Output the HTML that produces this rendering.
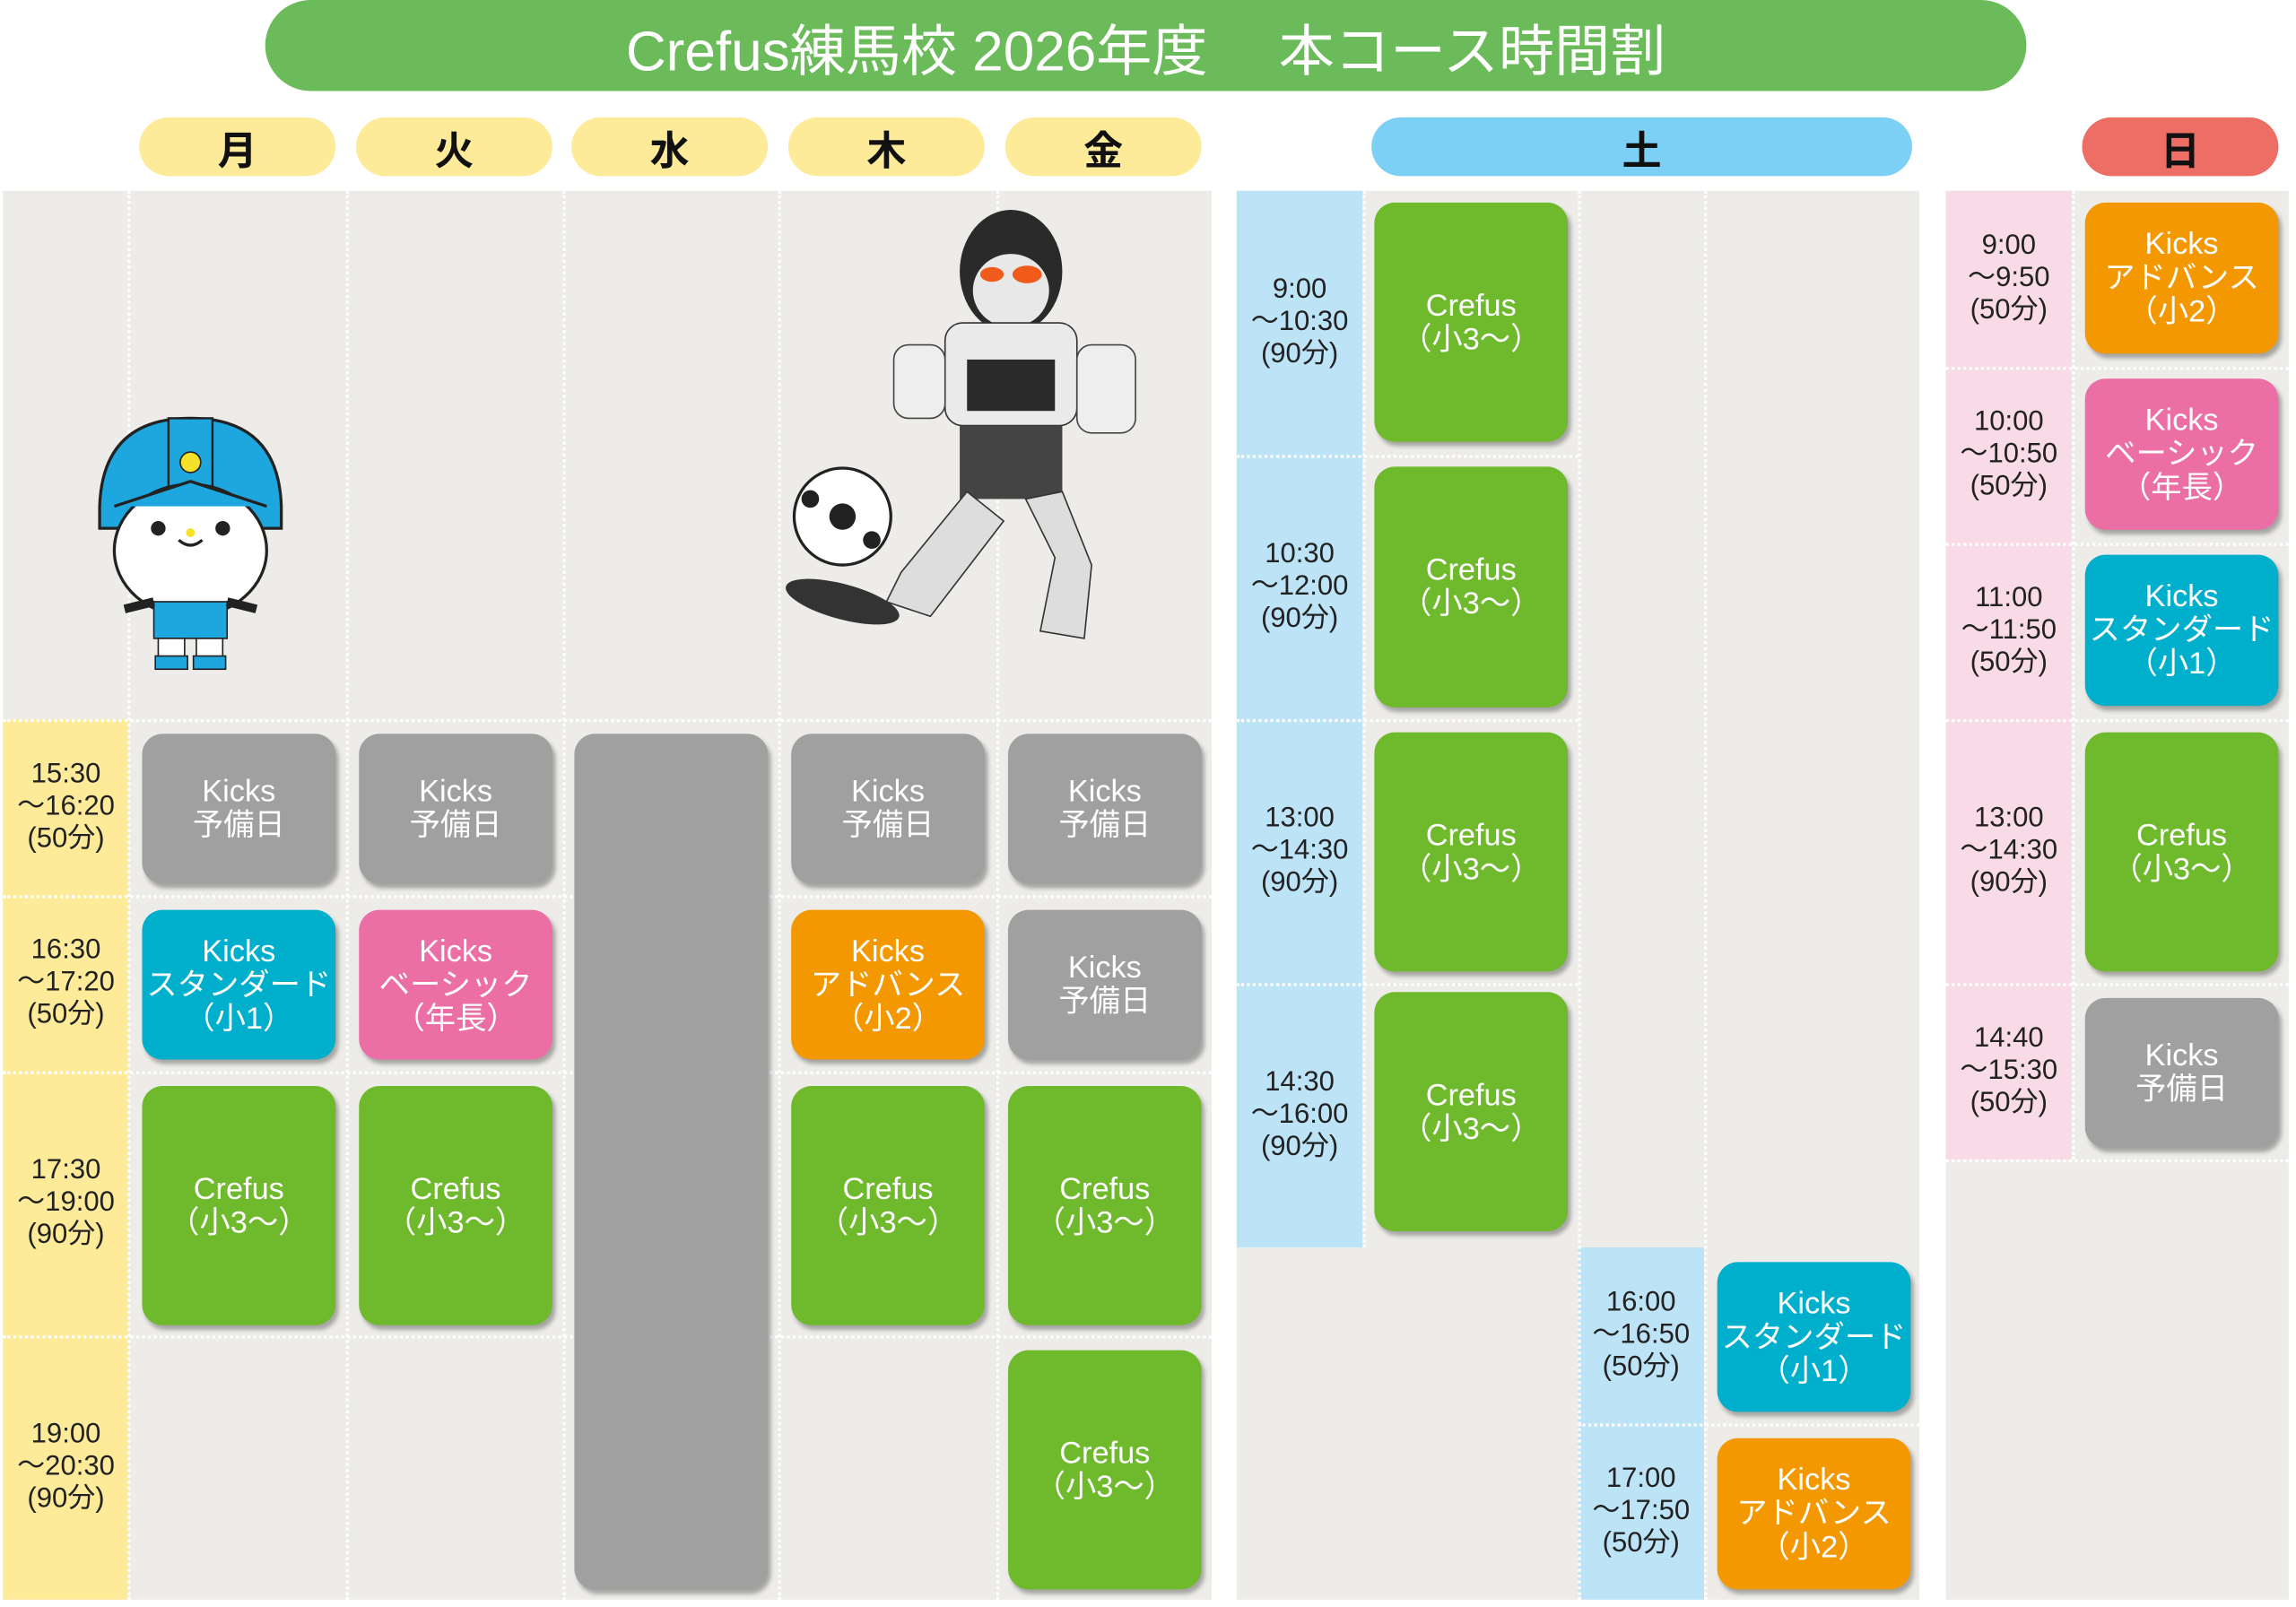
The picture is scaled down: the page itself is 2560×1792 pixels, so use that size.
<!DOCTYPE html>
<html><head><meta charset="utf-8"><style>
html,body{margin:0;padding:0;background:#fff;width:2560px;height:1792px;overflow:hidden}
#w{position:absolute;left:0;top:0;width:1564px;height:1095px;transform:scale(1.6337,1.6365);transform-origin:0 0;font-family:"Liberation Sans","Noto Sans CJK JP",sans-serif}
#w div{position:absolute;box-sizing:border-box}
.p{border-radius:21px;display:flex;align-items:center;justify-content:center;font-size:27px;font-weight:bold;color:#111}
.y{background:#fdeb9a}
.bg{background:#edece8}
.v{width:0;border-left:2px dotted #fff}
.h{height:0;border-top:2.5px dotted #fff}
.c{border-radius:14px;color:#fff;display:flex;align-items:center;justify-content:center;text-align:center;font-size:21px;line-height:23px;box-shadow:2px 3px 3px rgba(0,0,0,.3);width:132px}
.g{background:#a0a0a0}.gr{background:#6fba2c}.cy{background:#00afcc}.pk{background:#eb6ea5}.or{background:#f39800}
.t{display:flex;align-items:center;justify-content:center;text-align:center;font-size:19px;line-height:22px;color:#222;width:86px}
</style></head><body><div id="w">
<div style="left:181px;top:0;width:1202px;height:62px;border-radius:31px;background:#6cbb5a;color:#fff;font-size:38px;display:flex;align-items:center;justify-content:center;white-space:pre">Crefus練馬校 2026年度　 本コース時間割</div>
<div class="p y" style="left:95px;top:80px;width:134px;height:40px">月</div>
<div class="p y" style="left:243px;top:80px;width:134px;height:40px">火</div>
<div class="p y" style="left:390px;top:80px;width:134px;height:40px">水</div>
<div class="p y" style="left:538px;top:80px;width:134px;height:40px">木</div>
<div class="p y" style="left:686px;top:80px;width:134px;height:40px">金</div>
<div class="p" style="left:936px;top:80px;width:369px;height:40px;background:#7ccff5">土</div>
<div class="p" style="left:1421px;top:80px;width:134px;height:40px;background:#ec6e64">日</div>

<div class="bg" style="left:2px;top:130px;width:825px;height:960px"></div>
<div class="y" style="left:2px;top:490px;width:86px;height:600px"></div>
<div class="v" style="left:87px;top:130px;height:960px"></div>
<div class="v" style="left:236px;top:130px;height:960px"></div>
<div class="v" style="left:384px;top:130px;height:960px"></div>
<div class="v" style="left:531px;top:130px;height:960px"></div>
<div class="v" style="left:680px;top:130px;height:960px"></div>
<div class="h" style="left:2px;top:490px;width:825px"></div>
<div class="h" style="left:2px;top:610px;width:825px"></div>
<div class="h" style="left:2px;top:730px;width:825px"></div>
<div class="h" style="left:2px;top:910px;width:825px"></div>
<div class="t" style="left:2px;top:490px;height:120px">15:30<br>～16:20<br>(50分)</div>
<div class="t" style="left:2px;top:610px;height:120px">16:30<br>～17:20<br>(50分)</div>
<div class="t" style="left:2px;top:730px;height:180px">17:30<br>～19:00<br>(90分)</div>
<div class="t" style="left:2px;top:910px;height:180px">19:00<br>～20:30<br>(90分)</div>

<div class="c g" style="left:97px;top:500px;height:102px">Kicks<br>予備日</div>
<div class="c g" style="left:245px;top:500px;height:102px">Kicks<br>予備日</div>
<div class="c g" style="left:392px;top:500px;height:583px"></div>
<div class="c g" style="left:540px;top:500px;height:102px">Kicks<br>予備日</div>
<div class="c g" style="left:688px;top:500px;height:102px">Kicks<br>予備日</div>
<div class="c cy" style="left:97px;top:620px;height:102px">Kicks<br>スタンダード<br>（小1）</div>
<div class="c pk" style="left:245px;top:620px;height:102px">Kicks<br>ベーシック<br>（年長）</div>
<div class="c or" style="left:540px;top:620px;height:102px">Kicks<br>アドバンス<br>（小2）</div>
<div class="c g" style="left:688px;top:620px;height:102px">Kicks<br>予備日</div>
<div class="c gr" style="left:97px;top:740px;height:163px">Crefus<br>（小3～）</div>
<div class="c gr" style="left:245px;top:740px;height:163px">Crefus<br>（小3～）</div>
<div class="c gr" style="left:540px;top:740px;height:163px">Crefus<br>（小3～）</div>
<div class="c gr" style="left:688px;top:740px;height:163px">Crefus<br>（小3～）</div>
<div class="c gr" style="left:688px;top:920px;height:163px">Crefus<br>（小3～）</div>

<svg style="position:absolute;left:60px;top:280px" width="140" height="180" viewBox="0 0 140 180">
<path d="M8 65 Q10 5 70 5 Q130 5 132 65 L132 80 L8 80Z" fill="#1ea7df" stroke="#222" stroke-width="2"/>
<rect x="55" y="5" width="30" height="55" fill="#1ea7df" stroke="#222" stroke-width="1.5"/>
<circle cx="70" cy="35" r="7" fill="#f5e12a" stroke="#222"/>
<ellipse cx="70" cy="95" rx="52" ry="45" fill="#fff" stroke="#222" stroke-width="2"/>
<path d="M18 65 L70 48 L122 65" fill="#1ea7df" stroke="#222" stroke-width="2"/>
<circle cx="48" cy="80" r="5" fill="#222"/><circle cx="92" cy="80" r="5" fill="#222"/>
<circle cx="70" cy="83" r="3" fill="#f5e12a"/>
<path d="M62 88 Q70 95 78 88" fill="none" stroke="#222" stroke-width="2"/>
<rect x="45" y="130" width="50" height="25" fill="#1ea7df" stroke="#222"/>
<path d="M45 130 L25 135 M95 130 L115 135" stroke="#222" stroke-width="6"/>
<rect x="48" y="155" width="18" height="15" fill="#fff" stroke="#222"/><rect x="74" y="155" width="18" height="15" fill="#fff" stroke="#222"/>
<rect x="46" y="167" width="22" height="9" fill="#1ea7df" stroke="#222"/><rect x="72" y="167" width="22" height="9" fill="#1ea7df" stroke="#222"/>
</svg>
<svg style="position:absolute;left:535px;top:140px" width="260" height="310" viewBox="0 0 260 310">
<ellipse cx="155" cy="45" rx="35" ry="42" fill="#2a2a2a"/>
<ellipse cx="155" cy="58" rx="26" ry="25" fill="#e8e8e8"/>
<ellipse cx="142" cy="47" rx="8" ry="5" fill="#f05a1a"/><ellipse cx="166" cy="47" rx="10" ry="6" fill="#f05a1a"/>
<rect x="110" y="80" width="90" height="70" rx="12" fill="#eaeaea" stroke="#333"/>
<rect x="125" y="105" width="60" height="35" fill="#2a2a2a"/>
<rect x="75" y="95" width="35" height="50" rx="10" fill="#eee" stroke="#444"/>
<rect x="200" y="95" width="40" height="60" rx="10" fill="#eee" stroke="#444"/>
<rect x="120" y="150" width="70" height="50" fill="#444"/>
<path d="M125 195 L80 250 L70 270 L100 280 L150 215Z" fill="#ddd" stroke="#333"/>
<path d="M165 200 L185 240 L175 290 L205 295 L210 245 L190 195Z" fill="#ddd" stroke="#333"/>
<ellipse cx="40" cy="212" rx="33" ry="33" fill="#fff" stroke="#222" stroke-width="2"/>
<circle cx="40" cy="212" r="9" fill="#222"/><circle cx="18" cy="200" r="6" fill="#222"/><circle cx="60" cy="228" r="6" fill="#222"/>
<ellipse cx="40" cy="270" rx="40" ry="12" fill="#333" transform="rotate(15 40 270)"/>
</svg>

<div class="bg" style="left:844px;top:130px;width:466px;height:960px"></div>
<div style="left:844px;top:130px;width:86px;height:720px;background:#bde3f7"></div>
<div style="left:1077px;top:850px;width:86px;height:240px;background:#bde3f7"></div>
<div class="v" style="left:930px;top:130px;height:720px"></div>
<div class="v" style="left:1077px;top:130px;height:960px"></div>
<div class="v" style="left:1163px;top:130px;height:960px"></div>
<div class="h" style="left:844px;top:310px;width:233px"></div>
<div class="h" style="left:844px;top:490px;width:233px"></div>
<div class="h" style="left:844px;top:670px;width:233px"></div>
<div class="h" style="left:1077px;top:970px;width:233px"></div>
<div class="t" style="left:844px;top:130px;height:180px">9:00<br>～10:30<br>(90分)</div>
<div class="t" style="left:844px;top:310px;height:180px">10:30<br>～12:00<br>(90分)</div>
<div class="t" style="left:844px;top:490px;height:180px">13:00<br>～14:30<br>(90分)</div>
<div class="t" style="left:844px;top:670px;height:180px">14:30<br>～16:00<br>(90分)</div>
<div class="t" style="left:1077px;top:850px;height:120px">16:00<br>～16:50<br>(50分)</div>
<div class="t" style="left:1077px;top:970px;height:120px">17:00<br>～17:50<br>(50分)</div>
<div class="c gr" style="left:938px;top:138px;height:163px">Crefus<br>（小3～）</div>
<div class="c gr" style="left:938px;top:318px;height:164px">Crefus<br>（小3～）</div>
<div class="c gr" style="left:938px;top:499px;height:163px">Crefus<br>（小3～）</div>
<div class="c gr" style="left:938px;top:676px;height:163px">Crefus<br>（小3～）</div>
<div class="c cy" style="left:1172px;top:860px;height:102px">Kicks<br>スタンダード<br>（小1）</div>
<div class="c or" style="left:1172px;top:980px;height:103px">Kicks<br>アドバンス<br>（小2）</div>

<div class="bg" style="left:1328px;top:130px;width:234px;height:960px"></div>
<div style="left:1328px;top:130px;width:86px;height:660px;background:#f8dbe6"></div>
<div class="v" style="left:1414px;top:130px;height:660px"></div>
<div class="h" style="left:1328px;top:250px;width:234px"></div>
<div class="h" style="left:1328px;top:370px;width:234px"></div>
<div class="h" style="left:1328px;top:490px;width:234px"></div>
<div class="h" style="left:1328px;top:670px;width:234px"></div>
<div class="h" style="left:1328px;top:790px;width:234px"></div>
<div class="t" style="left:1328px;top:130px;height:120px">9:00<br>～9:50<br>(50分)</div>
<div class="t" style="left:1328px;top:250px;height:120px">10:00<br>～10:50<br>(50分)</div>
<div class="t" style="left:1328px;top:370px;height:120px">11:00<br>～11:50<br>(50分)</div>
<div class="t" style="left:1328px;top:490px;height:180px">13:00<br>～14:30<br>(90分)</div>
<div class="t" style="left:1328px;top:670px;height:120px">14:40<br>～15:30<br>(50分)</div>
<div class="c or" style="left:1423px;top:138px;height:103px">Kicks<br>アドバンス<br>（小2）</div>
<div class="c pk" style="left:1423px;top:258px;height:103px">Kicks<br>ベーシック<br>（年長）</div>
<div class="c cy" style="left:1423px;top:378px;height:103px">Kicks<br>スタンダード<br>（小1）</div>
<div class="c gr" style="left:1423px;top:499px;height:163px">Crefus<br>（小3～）</div>
<div class="c g" style="left:1423px;top:680px;height:102px">Kicks<br>予備日</div>
</div></body></html>
